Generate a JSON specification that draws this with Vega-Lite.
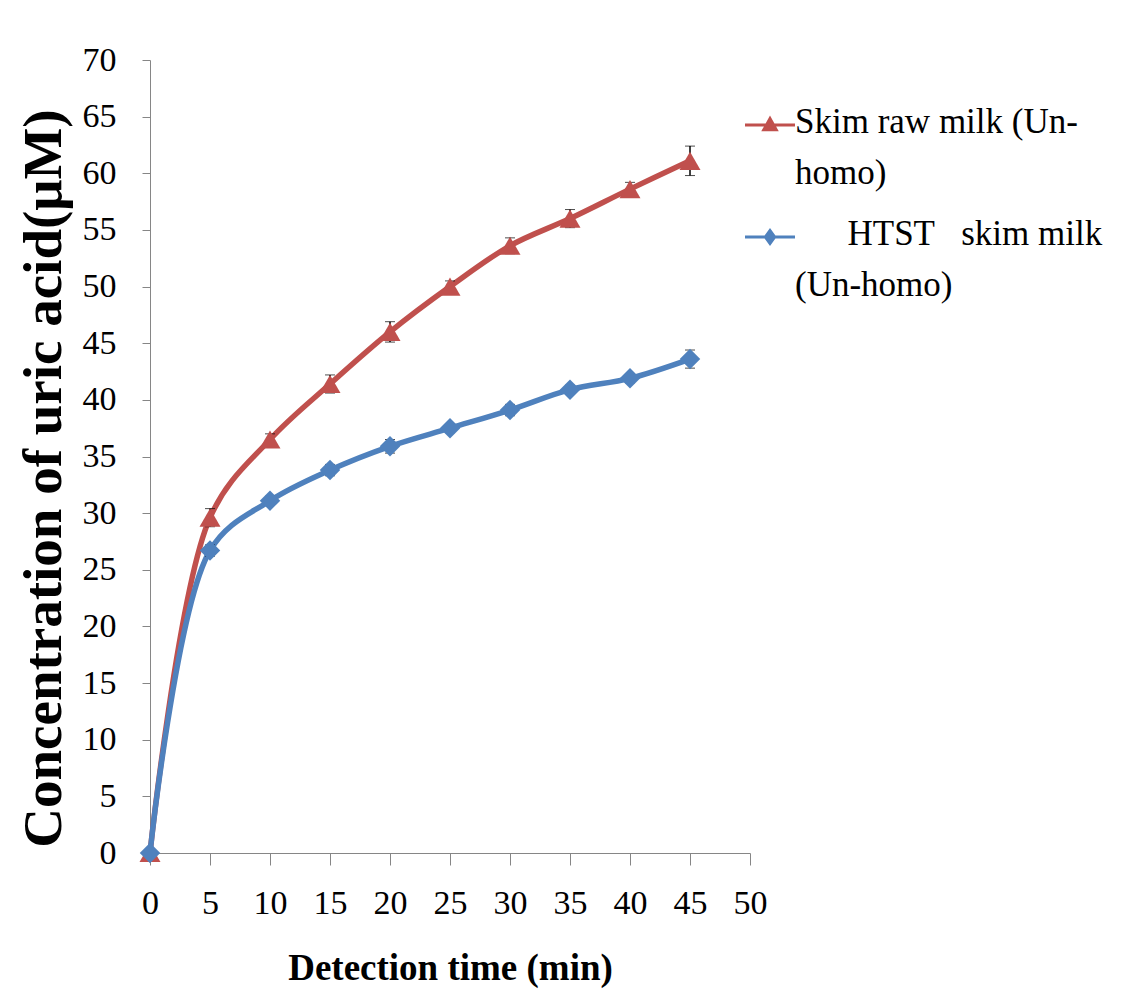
{
  "$schema": "https://vega.github.io/schema/vega-lite/v6.json",
  "width": 600,
  "height": 793,
  "autosize": {"type": "none"},
  "padding": {"left": 150, "top": 60, "right": 397, "bottom": 152},
  "background": "white",
  "config": {"view": {"stroke": null}, "font": "Liberation Serif"},
  "data": {
    "values": [
      {"series": "Skim raw milk (Un-homo)", "time": 0, "conc": 0, "lo": 0, "hi": 0},
      {"series": "Skim raw milk (Un-homo)", "time": 5, "conc": 29.6, "lo": 28.8, "hi": 30.4},
      {"series": "Skim raw milk (Un-homo)", "time": 10, "conc": 36.5, "lo": 36.0, "hi": 37.0},
      {"series": "Skim raw milk (Un-homo)", "time": 15, "conc": 41.4, "lo": 40.6, "hi": 42.2},
      {"series": "Skim raw milk (Un-homo)", "time": 20, "conc": 46.0, "lo": 45.1, "hi": 46.9},
      {"series": "Skim raw milk (Un-homo)", "time": 25, "conc": 50.0, "lo": 49.5, "hi": 50.5},
      {"series": "Skim raw milk (Un-homo)", "time": 30, "conc": 53.6, "lo": 52.9, "hi": 54.3},
      {"series": "Skim raw milk (Un-homo)", "time": 35, "conc": 56.0, "lo": 55.2, "hi": 56.8},
      {"series": "Skim raw milk (Un-homo)", "time": 40, "conc": 58.6, "lo": 58.0, "hi": 59.2},
      {"series": "Skim raw milk (Un-homo)", "time": 45, "conc": 61.1, "lo": 59.8, "hi": 62.4},
      {"series": "HTST skim milk (Un-homo)", "time": 0, "conc": 0, "lo": 0, "hi": 0},
      {"series": "HTST skim milk (Un-homo)", "time": 5, "conc": 26.7, "lo": 26.2, "hi": 27.2},
      {"series": "HTST skim milk (Un-homo)", "time": 10, "conc": 31.1, "lo": 30.7, "hi": 31.5},
      {"series": "HTST skim milk (Un-homo)", "time": 15, "conc": 33.8, "lo": 33.3, "hi": 34.3},
      {"series": "HTST skim milk (Un-homo)", "time": 20, "conc": 35.9, "lo": 35.3, "hi": 36.5},
      {"series": "HTST skim milk (Un-homo)", "time": 25, "conc": 37.5, "lo": 37.1, "hi": 37.9},
      {"series": "HTST skim milk (Un-homo)", "time": 30, "conc": 39.1, "lo": 38.6, "hi": 39.6},
      {"series": "HTST skim milk (Un-homo)", "time": 35, "conc": 40.9, "lo": 40.5, "hi": 41.3},
      {"series": "HTST skim milk (Un-homo)", "time": 40, "conc": 41.9, "lo": 41.5, "hi": 42.3},
      {"series": "HTST skim milk (Un-homo)", "time": 45, "conc": 43.6, "lo": 42.8, "hi": 44.4}
    ]
  },
  "encoding": {
    "color": {"field": "series", "type": "nominal",
      "scale": {"domain": ["Skim raw milk (Un-homo)", "HTST skim milk (Un-homo)"], "range": ["#C0504D", "#4F81BD"]},
      "legend": {"title": null, "orient": "none", "legendX": 595, "legendY": 40,
        "labelFont": "Liberation Serif", "labelFontSize": 35, "labelColor": "black", "labelLimit": 500,
        "labelBaseline": "top", "symbolSize": 2500, "rowPadding": 21, "labelOffset": 0,
        "labelExpr": "datum.value == 'Skim raw milk (Un-homo)' ? ['Skim raw milk (Un-', 'homo)'] : ['\u200b\u2003\u00a0\u00a0HTST\u00a0\u00a0 skim milk', '(Un-homo)']",
        "encode": {
          "symbols": {"update": {
            "shape": {"signal": "datum.value == 'Skim raw milk (Un-homo)' ? 'M-1,-0.06L1,-0.06L1,0.06L-1,0.06Z M0,-0.38L0.35,0.25L-0.35,0.25Z' : 'M-1,-0.06L1,-0.06L1,0.06L-1,0.06Z M0,-0.36L0.26,0L0,0.36L-0.26,0Z'"},
            "fill": {"scale": "color", "field": "value"},
            "strokeWidth": {"value": 0}}},
          "labels": {"update": {"lineHeight": {"value": 51}, "dy": {"value": -20}}}
        }
      }}
  },
  "layer": [
    {
      "mark": {"type": "line", "interpolate": "catmull-rom", "strokeWidth": 5.5},
      "encoding": {
        "x": {"field": "time", "type": "quantitative",
          "scale": {"domain": [0, 50], "nice": false},
          "axis": {"title": "Detection time (min)", "values": [0,5,10,15,20,25,30,35,40,45,50],
            "grid": false, "domainColor": "#868686", "tickColor": "#868686", "tickSize": 12,
            "labelFont": "Liberation Serif", "labelFontSize": 34, "labelColor": "black", "labelPadding": 21,
            "labelFlush": false, "labelOverlap": false,
            "titleFont": "Liberation Serif", "titleFontSize": 37, "titleFontWeight": "bold", "titleColor": "black", "titlePadding": 30}},
        "y": {"field": "conc", "type": "quantitative",
          "scale": {"domain": [0, 70], "nice": false},
          "axis": {"title": "Concentration of uric acid(μM)", "values": [0,5,10,15,20,25,30,35,40,45,50,55,60,65,70],
            "grid": false, "domainColor": "#868686", "tickColor": "#868686", "tickSize": 8,
            "labelFont": "Liberation Serif", "labelFontSize": 34, "labelColor": "black", "labelPadding": 26,
            "labelFlush": false, "labelOverlap": false,
            "titleFont": "Liberation Serif", "titleFontSize": 55, "titleFontWeight": "bold", "titleColor": "black", "titlePadding": 10, "titleY": 418}}
      }
    },
    {
      "transform": [{"filter": "datum.time > 0"}],
      "mark": {"type": "errorbar", "ticks": {"size": 10, "color": "black", "strokeWidth": 1.5}, "rule": {"color": "black", "strokeWidth": 1.5}},
      "encoding": {
        "x": {"field": "time", "type": "quantitative"},
        "y": {"field": "lo", "type": "quantitative", "title": "Concentration of uric acid(μM)"},
        "y2": {"field": "hi"},
        "detail": {"field": "series"},
        "color": {"value": "black"}
      }
    },
    {
      "transform": [{"filter": "datum.series == 'Skim raw milk (Un-homo)'"}],
      "mark": {"type": "point", "filled": true, "size": 440, "opacity": 1, "shape": "triangle-up"},
      "encoding": {
        "x": {"field": "time", "type": "quantitative"},
        "y": {"field": "conc", "type": "quantitative", "title": "Concentration of uric acid(μM)"}
      }
    },
    {
      "transform": [{"filter": "datum.series == 'HTST skim milk (Un-homo)'"}],
      "mark": {"type": "point", "filled": true, "size": 420, "opacity": 1, "shape": "diamond"},
      "encoding": {
        "x": {"field": "time", "type": "quantitative"},
        "y": {"field": "conc", "type": "quantitative", "title": "Concentration of uric acid(μM)"}
      }
    }
  ]
}
